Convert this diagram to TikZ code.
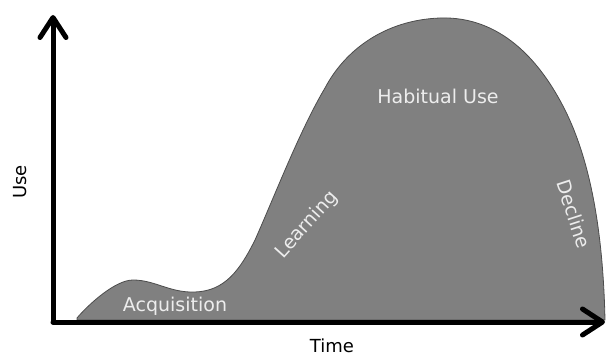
\documentclass[tikz,border=0pt]{standalone}
\usepackage{fontspec}
\setmainfont{DejaVu Sans}
\usetikzlibrary{arrows.meta}
\definecolor{areagray}{gray}{0.5}
\definecolor{labelgray}{gray}{0.93}
\tikzset{
  axis/.style={line width=5pt,line cap=round,line join=round,
    -{Straight Barb[length=20pt,width=26pt,line cap=round,round]}},
  phase/.style={text=labelgray,font=\fontsize{19}{21}\selectfont,inner sep=0pt},
  axislabel/.style={text=black,font=\fontsize{18}{20}\selectfont,inner sep=0pt}
}
\begin{document}
\begin{tikzpicture}[x=1pt,y=-1pt]
	\useasboundingbox (0,0) rectangle (608,358);
	% usage curve
	\fill[areagray,draw=black!70,line width=0.8pt] (77,318) .. controls (88,305) and (115,280) .. (133,280)
		.. controls (155,280) and (170,293) .. (195,292)
		.. controls (225,291) and (240,270) .. (255,240)
		.. controls (275,195) and (300,130) .. (325,88)
		.. controls (345,50) and (385,20) .. (440,18)
		.. controls (500,16) and (540,60) .. (565,110)
		.. controls (590,160) and (603,230) .. (605,320) -- (77,320) -- cycle;
	% axes
	\coordinate (origin) at (53,322);
	\coordinate (ytop) at (53,15);
	\coordinate (xend) at (605,322);
	\draw[axis] (origin)--(ytop);
	\draw[axis] (origin)--(xend);
	\node[axislabel,rotate=90] (use) at (20,182){Use};
	\node[axislabel] (time) at (332,346){Time};
	% phases
	\node[phase] (acq) at (175,306){Acquisition};
	\node[phase,rotate=48] (learn) at (307,225){Learning};
	\node[phase] (habit) at (438,96){Habitual Use};
	\node[phase,rotate=-72] (decline) at (574,214){Decline};
\end{tikzpicture}
\end{document}
